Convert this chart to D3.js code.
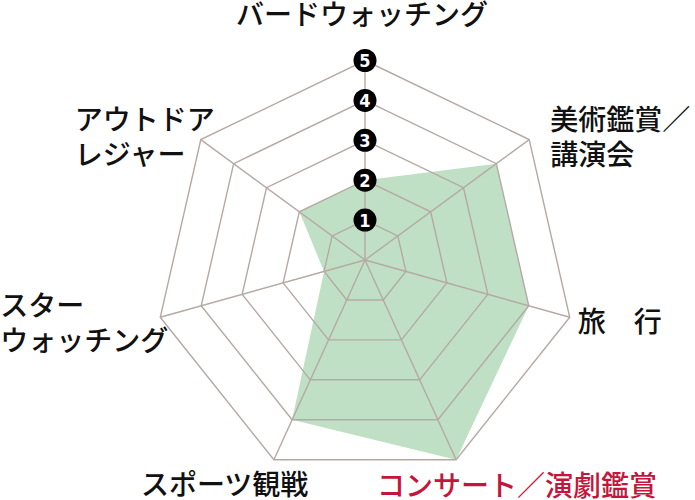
<!DOCTYPE html>
<html>
<head>
<meta charset="utf-8">
<script src="https://cdn.jsdelivr.net/npm/d3@7"></script>
<style>
  html, body { margin: 0; padding: 0; background: #fff; }
  svg { display: block; }
</style>
</head>
<body>
<div id="chart"></div>
<script>
// --- Data ---
// axis names, clockwise from the top ("\n" = line break)
const categories = [
  "バードウォッチング",
  "美術鑑賞／\n講演会",
  "旅　行",
  "コンサート／演劇鑑賞",
  "スポーツ観戦",
  "スター\nウォッチング",
  "アウトドア\nレジャー"
];
// score on each axis (0-5)
const values = [2, 4, 4, 5, 4, 1, 2];
// ring / tick labels
const ticks = [1, 2, 3, 4, 5];
// the axis whose label is shown in red
const highlighted = "コンサート／演劇鑑賞";

// --- Configuration ---
const width = 695;
const height = 500;
const cx = 365; // hub of the spokes
const cy = 260;
const tilt = 0.05; // the rings sit a little below the hub in the original drawing
const fontFamily = "'Noto Sans CJK JP', 'Noto Sans', sans-serif";

// radius scale: score -> pixels
const r = d3.scaleLinear().domain([0, 5]).range([0, 210]);
// angle scale: axis index -> radians, starting at the top
const angle = d3.scaleLinear()
  .domain([0, categories.length])
  .range([-Math.PI / 2, 1.5 * Math.PI]);

// point on axis i at score v
function point(i, v) {
  const a = angle(i);
  return [cx + r(v) * Math.cos(a), cy + r(v) * (Math.sin(a) + tilt)];
}

const svg = d3.select("#chart")
  .append("svg")
  .attr("width", width)
  .attr("height", height);

const line = d3.line().curve(d3.curveLinearClosed);

// --- Data polygon (drawn under the grid) ---
svg.append("path")
  .attr("d", line(values.map((v, i) => point(i, v))))
  .attr("fill", "#bfe0c5")
  .attr("stroke", "none");

// --- Grid rings ---
const grid = svg.append("g")
  .attr("fill", "none")
  .attr("stroke", "#b5a9a3")
  .attr("stroke-width", 1.4)
  .attr("stroke-linejoin", "miter");

grid.selectAll("path.ring")
  .data(ticks)
  .join("path")
  .attr("class", "ring")
  .attr("d", (t) => line(categories.map((c, i) => point(i, t))));

// --- Spokes ---
grid.selectAll("line.spoke")
  .data(categories)
  .join("line")
  .attr("class", "spoke")
  .attr("x1", cx)
  .attr("y1", cy)
  .attr("x2", (c, i) => point(i, 5)[0])
  .attr("y2", (c, i) => point(i, 5)[1]);

// --- Tick badges on the top axis ---
const badge = svg.append("g")
  .selectAll("g")
  .data(ticks)
  .join("g")
  .attr("transform", (t) => `translate(${point(0, t)[0]},${point(0, t)[1]})`);

badge.append("circle")
  .attr("r", 11.5)
  .attr("fill", "#000");

badge.append("text")
  .attr("text-anchor", "middle")
  .attr("y", 6.5)
  .attr("fill", "#fff")
  .style("font", `bold 18px 'DejaVu Sans Condensed', 'Liberation Sans Narrow', 'DejaVu Sans', sans-serif`)
  .text((t) => t);

// --- Axis labels ---
// offsets of each label from its outer vertex: [dx, dy of first baseline, anchor]
const labelOffsets = [
  [-3, -36, "middle"],
  [21, -10, "start"],
  [8, 15, "start"],
  [-79, 36, "start"],
  [-133, 35, "start"],
  [-160, -1, "start"],
  [-126, -10, "start"]
];
const lineHeight = 35;

svg.append("g")
  .style("font", `500 28px ${fontFamily}`)
  .selectAll("text")
  .data(categories)
  .join("text")
  .attr("fill", (c) => (c === highlighted ? "#c4163c" : "#111"))
  .attr("text-anchor", (c, i) => labelOffsets[i][2])
  .attr("x", (c, i) => point(i, 5)[0] + labelOffsets[i][0])
  .attr("y", (c, i) => point(i, 5)[1] + labelOffsets[i][1])
  .each(function (c) {
    const t = d3.select(this);
    const x = t.attr("x");
    c.split("\n").forEach((s, k) => {
      t.append("tspan")
        .attr("x", x)
        .attr("dy", k === 0 ? 0 : lineHeight)
        .text(s);
    });
  });
</script>
</body>
</html>
